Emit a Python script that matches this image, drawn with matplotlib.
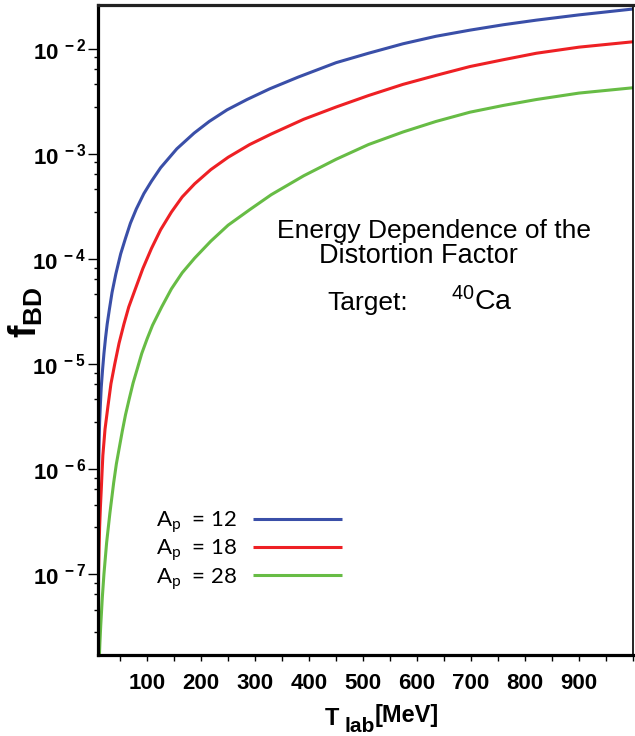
import numpy as np
import matplotlib.pyplot as plt
from matplotlib.ticker import FixedLocator, NullFormatter

plt.rcParams['font.family'] = ['Liberation Sans', 'DejaVu Sans']
plt.rcParams['mathtext.fontset'] = 'custom'
plt.rcParams['mathtext.rm'] = 'Liberation Sans'
plt.rcParams['mathtext.it'] = 'Liberation Sans:italic'
plt.rcParams['mathtext.bf'] = 'Liberation Sans:bold'

# values (T_lab in MeV, f_BD)
t_12 = [9, 10, 11, 12, 13.5, 15, 17.5, 20, 23, 26, 30, 35, 42, 51, 60, 69, 80, 94, 108, 125,
        155, 187, 215, 248, 285, 327, 380, 450, 510, 574, 635, 698, 760, 821, 900, 1000]
f_12 = [1.6e-7, 1.0e-6, 1.78e-6, 2.8e-6, 4.2e-6, 6.0e-6, 8.9e-6, 1.26e-5, 1.78e-5, 2.4e-5,
        3.3e-5, 4.8e-5, 7.2e-5, 1.12e-4, 1.58e-4, 2.19e-4, 3.0e-4, 4.2e-4, 5.5e-4, 7.4e-4,
        1.12e-3, 1.58e-3, 2.04e-3, 2.63e-3, 3.3e-3, 4.17e-3, 5.4e-3, 7.4e-3, 9.1e-3, 1.12e-2,
        1.32e-2, 1.51e-2, 1.70e-2, 1.88e-2, 2.11e-2, 2.4e-2]

t_18 = [9, 10, 11, 12, 13.5, 15, 16.5, 18, 22, 27.5, 33, 40, 48, 57, 66, 77, 92, 108, 125,
        145, 165, 188, 218, 250, 290, 330, 390, 450, 510, 574, 635, 698, 760, 821, 900, 1000]
f_18 = [1.0e-8, 1.0e-7, 1.78e-7, 2.8e-7, 4.4e-7, 6.3e-7, 9.3e-7, 1.35e-6, 2.4e-6, 4.0e-6,
        6.5e-6, 1.0e-5, 1.58e-5, 2.4e-5, 3.5e-5, 5.0e-5, 8.1e-5, 1.26e-4, 1.9e-4, 2.8e-4,
        3.9e-4, 5.2e-4, 7.1e-4, 9.3e-4, 1.23e-3, 1.55e-3, 2.14e-3, 2.8e-3, 3.6e-3, 4.6e-3,
        5.6e-3, 6.8e-3, 7.9e-3, 9.1e-3, 1.04e-2, 1.17e-2]

t_28 = [10, 11, 12.5, 14, 17, 20, 25, 31, 38, 43, 49, 54, 60, 67, 74, 82, 90, 100, 110, 127,
        145, 165, 188, 218, 250, 290, 330, 390, 450, 510, 574, 635, 698, 760, 821, 900, 1000]
f_28 = [5.0e-9, 1.4e-8, 2.2e-8, 3.2e-8, 6.0e-8, 1.0e-7, 2.0e-7, 3.8e-7, 7.4e-7, 1.12e-6,
        1.66e-6, 2.3e-6, 3.3e-6, 4.7e-6, 6.6e-6, 9.1e-6, 1.26e-5, 1.74e-5, 2.34e-5, 3.5e-5,
        5.2e-5, 7.4e-5, 1.02e-4, 1.48e-4, 2.1e-4, 2.95e-4, 4.1e-4, 6.2e-4, 8.9e-4, 1.23e-3,
        1.62e-3, 2.04e-3, 2.5e-3, 2.9e-3, 3.3e-3, 3.8e-3, 4.27e-3]

labels = ['A$_\\mathregular{p}$  = 12', 'A$_\\mathregular{p}$  = 18', 'A$_\\mathregular{p}$  = 28']
colors = ['#3A4FA8', '#EE2024', '#67BC45']

x_ticks = [100, 200, 300, 400, 500, 600, 700, 800, 900, 1000]
x_tick_labels = ['100', '200', '300', '400', '500', '600', '700', '800', '900', '']
y_exps = [-7, -6, -5, -4, -3, -2]

fig = plt.figure(figsize=(6.35, 7.36), dpi=100)
ax = fig.add_axes([98 / 635, 1 - 655 / 736, 535 / 635, 650 / 736])

for t, f, lab, c in zip([t_12, t_18, t_28], [f_12, f_18, f_28], labels, colors):
    ax.plot(t, f, color=c, lw=2.2, label=lab, solid_capstyle='butt')

ax.set_yscale('log')
ax.set_xlim(9, 1000)
ax.set_ylim(1.7e-8, 2.62e-2)

# ticks
ax.set_xticks(x_ticks, x_tick_labels)
ax.xaxis.set_minor_locator(FixedLocator(np.arange(50, 1000, 100)))
ax.set_yticks([10.0 ** e for e in y_exps],
              [r'$\mathbf{10^{\ -%d}}$' % (-e) for e in y_exps])
minors = [s * 10.0 ** e for e in range(-9, -1) for s in (2.8, 4.6, 6.5, 8.3)]
ax.yaxis.set_minor_locator(FixedLocator(minors))
ax.yaxis.set_minor_formatter(NullFormatter())

ax.tick_params(axis='x', which='both', direction='out', length=4, width=1, pad=9,
               labelsize=16)
ax.tick_params(axis='y', which='major', direction='out', length=7, width=1, pad=1.5,
               labelsize=16)
ax.tick_params(axis='y', which='minor', direction='out', length=3, width=1)
for lbl in ax.get_xticklabels():
    lbl.set_fontweight('bold')

for side in ['left', 'bottom', 'top']:
    ax.spines[side].set_linewidth(2.3)
ax.spines['right'].set_linewidth(1.2)
ax.spines['top'].set_color('#222222')

# axis labels
fig.text(26 / 635, 1 - 312 / 736, r'$\mathbf{f_{BD}}$', rotation=90, fontsize=27,
         ha='center', va='center')
fig.text(325 / 635, 1 - 725 / 736, 'T', fontsize=17, fontweight='bold', ha='left', va='baseline')
fig.text(345 / 635, 1 - 732 / 736, 'lab', fontsize=15, fontweight='bold', ha='left', va='baseline')
fig.text(375 / 635, 1 - 722 / 736, '[MeV]', fontsize=17, fontweight='bold', ha='left', va='baseline')

# annotation
ax.text(434 / 635, 1 - 238 / 736, 'Energy Dependence of the', transform=fig.transFigure,
        fontsize=19, ha='center', va='baseline')
ax.text(418 / 635, 1 - 263 / 736, 'Distortion Factor', transform=fig.transFigure,
        fontsize=19.5, ha='center', va='baseline')
ax.text(327 / 635, 1 - 310 / 736, 'Target:', transform=fig.transFigure,
        fontsize=19, ha='left', va='baseline')
ax.text(451 / 635, 1 - 310 / 736, '$^{40}$Ca', transform=fig.transFigure,
        fontsize=20.5, ha='left', va='baseline')

ax.legend(loc='upper left', bbox_to_anchor=(145 / 635, 1 - 498 / 736),
          bbox_transform=fig.transFigure, frameon=False, markerfirst=False,
          handlelength=4.0, handletextpad=0.7, labelspacing=0.12, borderpad=0,
          prop={'family': 'Lato', 'size': 16})

fig.savefig('out.png', dpi=100)
